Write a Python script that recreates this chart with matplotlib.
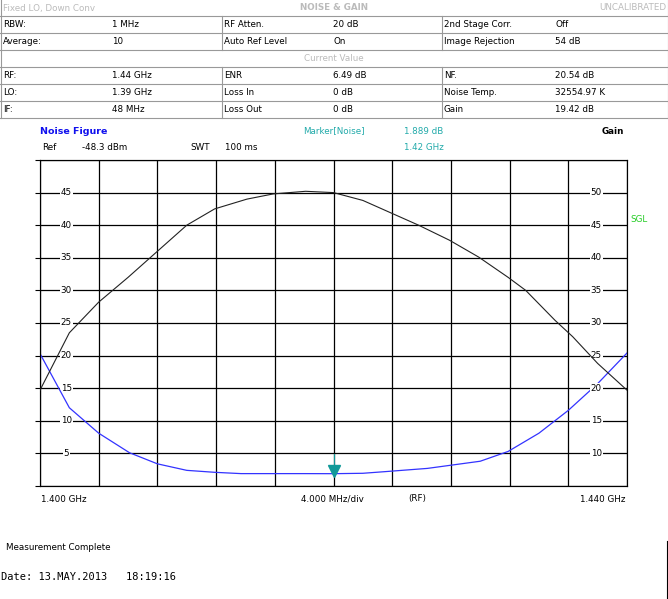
import matplotlib
matplotlib.use("Agg")
import matplotlib.pyplot as plt
import numpy as np
from matplotlib.lines import Line2D

# data (frequency in GHz)
nf_freq = [1.4000, 1.4020, 1.4040, 1.4061, 1.4080, 1.4100, 1.4119, 1.4137, 1.4160, 1.4180, 1.4200, 1.4220, 1.4235, 1.4264, 1.4300, 1.4319, 1.4340, 1.4360, 1.4380, 1.4400]
nf_vals = [20.3, 12.0, 8.1, 5.1, 3.4, 2.4, 2.1, 1.9, 1.9, 1.9, 1.889, 1.95, 2.2, 2.7, 3.8, 5.3, 8.1, 11.6, 15.7, 20.4]
gain_freq = [1.4000, 1.4020, 1.4040, 1.4060, 1.4081, 1.4100, 1.4119, 1.4141, 1.4159, 1.4181, 1.4200, 1.4220, 1.4241, 1.4258, 1.4279, 1.4299, 1.4319, 1.4331, 1.4351, 1.4363, 1.4380, 1.4400]
gain_vals = [19.7, 28.5, 33.2, 37.0, 41.2, 45.0, 47.5, 49.0, 49.8, 50.2, 50.0, 48.8, 46.7, 45.0, 42.7, 40.1, 37.0, 35.0, 30.4, 27.9, 23.8, 19.7]
left_ticks = [5, 10, 15, 20, 25, 30, 35, 40, 45]
right_ticks = [10, 15, 20, 25, 30, 35, 40, 45, 50]
marker_freq, marker_nf = 1.420, 1.889

W, H = 668, 599
fig = plt.figure(figsize=(W/100, H/100), dpi=100)
fs = 6.3
grey = '#999999'

def fx(px): return px / W
def fy(py): return 1 - py / H

# table
rows_y = [0, 16, 33, 50, 67, 84, 101, 118]
for y in rows_y[1:]:
    fig.add_artist(Line2D([0, 1], [fy(y), fy(y)], color=grey, lw=0.8))
fig.add_artist(Line2D([fx(0.5), fx(0.5)], [fy(0), fy(118)], color=grey, lw=0.8))
fig.add_artist(Line2D([fx(667.5), fx(667.5)], [fy(0), fy(118)], color=grey, lw=0.8))
for x in [222, 442]:
    for a, b in [(16, 50), (67, 118)]:
        fig.add_artist(Line2D([fx(x), fx(x)], [fy(a), fy(b)], color=grey, lw=0.8))
fig.text(fx(3), fy(8), "Fixed LO, Down Conv", fontsize=fs, color='#bbbbbb', va='center')
fig.text(0.5, fy(8), "NOISE & GAIN", fontsize=fs, color='#bbbbbb', va='center', ha='center', fontweight='bold')
fig.text(fx(666), fy(8), "UNCALIBRATED", fontsize=fs, color='#bbbbbb', va='center', ha='right')
fig.text(0.5, fy(58.5), "Current Value", fontsize=fs, color='#bbbbbb', va='center', ha='center')
cells = {
    1: ["RBW:", "1 MHz", "RF Atten.", "20 dB", "2nd Stage Corr.", "Off"],
    2: ["Average:", "10", "Auto Ref Level", "On", "Image Rejection", "54 dB"],
    4: ["RF:", "1.44 GHz", "ENR", "6.49 dB", "NF.", "20.54 dB"],
    5: ["LO:", "1.39 GHz", "Loss In", "0 dB", "Noise Temp.", "32554.97 K"],
    6: ["IF:", "48 MHz", "Loss Out", "0 dB", "Gain", "19.42 dB"],
}
colx = [3, 112, 224, 333, 444, 555]
for r, vals in cells.items():
    yc = (rows_y[r] + rows_y[r+1]) / 2
    for x, t in zip(colx, vals):
        fig.text(fx(x), fy(yc), t, fontsize=fs, va='center')

fig.text(fx(40), fy(131), "Noise Figure", fontsize=fs+0.5, color='#1010ee', fontweight='bold', va='center')
fig.text(fx(303), fy(131), "Marker[Noise]", fontsize=fs, color='#22aaaa', va='center')
fig.text(fx(404), fy(131), "1.889 dB", fontsize=fs, color='#22aaaa', va='center')
fig.text(fx(602), fy(131), "Gain", fontsize=fs, fontweight='bold', va='center')
fig.text(fx(42), fy(148), "Ref", fontsize=fs, va='center')
fig.text(fx(82), fy(148), "-48.3 dBm", fontsize=fs, va='center')
fig.text(fx(190), fy(148), "SWT", fontsize=fs, va='center')
fig.text(fx(225), fy(148), "100 ms", fontsize=fs, va='center')
fig.text(fx(404), fy(148), "1.42 GHz", fontsize=fs, color='#22aaaa', va='center')

# plot
x0, x1, y0, y1 = 40, 627, 160, 486
ax = fig.add_axes([fx(x0), fy(y1), (x1-x0)/W, (y1-y0)/H])
ax.set_xlim(1.400, 1.440)
ax.set_ylim(0, 50)
ax.set_xticks(np.linspace(1.400, 1.440, 11))
ax.set_yticks([5*i for i in range(11)])
ax.grid(True, color='black', lw=0.9)
ax.tick_params(left=False, bottom=False, right=False, top=False, labelleft=False, labelbottom=False)
for s in ax.spines.values():
    s.set_color('#555555')
    s.set_linewidth(0.8)
ax2 = ax.twinx()
ax2.set_ylim(5, 55)
ax2.tick_params(left=False, right=False, bottom=False, top=False, labelright=False, labelleft=False, labelbottom=False)
ax.plot(nf_freq, nf_vals, color='#3333ff', lw=0.9, zorder=3)
ax2.plot(gain_freq, gain_vals, color='#222222', lw=0.8, zorder=3)
for v in left_ticks:
    ax.text(1.4018, v, str(v), fontsize=fs, ha='center', va='center',
            bbox=dict(fc='white', ec='none', pad=0.6), zorder=2.5)
for v in right_ticks:
    ax2.text(1.4379, v, str(v), fontsize=fs, ha='center', va='center',
             bbox=dict(fc='white', ec='none', pad=0.6), zorder=1)
ax.plot([marker_freq, marker_freq], [marker_nf + 0.8, marker_nf + 3], color='#119999', lw=0.8, zorder=5)
ax.plot([marker_freq], [marker_nf + 0.4], marker='v', color='#119999', ms=8, zorder=5)
fig.text(fx(630), fy(219), "SGL", fontsize=fs, color='#22cc22', va='center')

fig.text(fx(41), fy(499), "1.400 GHz", fontsize=fs, va='center')
fig.text(fx(301), fy(499), "4.000 MHz/div", fontsize=fs, va='center')
fig.text(fx(408), fy(499), "(RF)", fontsize=fs, va='center')
fig.text(fx(626), fy(499), "1.440 GHz", fontsize=fs, va='center', ha='right')

fig.text(fx(6), fy(548), "Measurement Complete", fontsize=fs, va='center')
fig.add_artist(Line2D([fx(666.5), fx(666.5)], [fy(541), fy(599)], color='black', lw=0.8))
fig.text(fx(1), fy(577), "Date: 13.MAY.2013   18:19:16", fontsize=7.5, family='DejaVu Sans Mono', va='center')

fig.savefig("out.png", dpi=100)
